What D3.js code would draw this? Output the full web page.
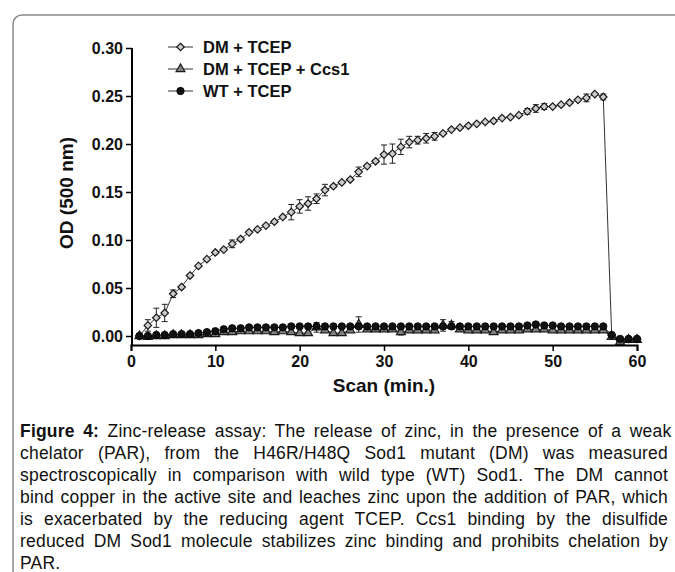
<!DOCTYPE html>
<html lang="en">
<head>
  <meta charset="UTF-8">
  <title>Zinc-release assay</title>
  <script src="https://d3js.org/d3.v7.min.js"></script>
  <style>
    body { margin: 0; background: #fff; }
    svg { display: block; font-family: "Liberation Sans", Arial, sans-serif; }
    .tick text { font-weight: bold; font-size: 16px; fill: #111; }
    .legend { font-weight: bold; font-size: 16.5px; fill: #111; }
    .title { font-weight: bold; font-size: 19px; fill: #111; }
    .caption { font-size: 17.5px; letter-spacing: 0.2px; fill: #111; }
  </style>
</head>
<body>
  <svg width="675" height="572"></svg>

  <script>
    // scan time (min.)
    const minutes = [1,2,3,4,5,6,7,8,9,10,11,12,13,14,15,16,17,18,19,20,
                     21,22,23,24,25,26,27,28,29,30,31,32,33,34,35,36,37,38,39,40,
                     41,42,43,44,45,46,47,48,49,50,51,52,53,54,55,56,57,58,59,60];

    // DM + TCEP
    const dm = [0.000,0.011,0.019,0.024,0.044,0.051,0.063,0.073,0.080,0.087,
                0.090,0.096,0.101,0.108,0.111,0.115,0.119,0.124,0.129,0.135,
                0.138,0.143,0.152,0.156,0.160,0.163,0.171,0.177,0.182,0.189,
                0.190,0.197,0.202,0.204,0.206,0.208,0.211,0.215,0.217,0.219,
                0.221,0.223,0.224,0.227,0.228,0.230,0.234,0.237,0.239,0.239,
                0.241,0.243,0.246,0.248,0.252,0.249,0.001,-0.005,-0.003,-0.003];
    const dmErr = [0.001,0.006,0.010,0.009,0.004,0.001,0.001,0.001,0.001,0.001,
                   0.001,0.004,0.001,0.001,0.001,0.001,0.001,0.001,0.008,0.007,
                   0.007,0.005,0.006,0.001,0.001,0.001,0.005,0.001,0.001,0.010,
                   0.010,0.008,0.006,0.004,0.005,0.004,0.001,0.001,0.001,0.001,
                   0.001,0.001,0.001,0.001,0.001,0.001,0.003,0.004,0.003,0.001,
                   0.001,0.001,0.001,0.004,0.001,0.003,0.001,0.001,0.001,0.001];

    // DM + TCEP + Ccs1
    const ccs = [0.000,-0.001,0.000,0.000,0.001,0.001,0.001,0.001,0.002,0.002,
                 0.004,0.004,0.005,0.005,0.005,0.005,0.004,0.005,0.004,0.003,
                 0.003,0.009,0.006,0.003,0.003,0.006,0.012,0.007,0.007,0.007,
                 0.007,0.004,0.006,0.006,0.006,0.006,0.011,0.011,0.007,0.006,
                 0.006,0.006,0.004,0.006,0.006,0.006,0.007,0.007,0.007,0.006,
                 0.006,0.006,0.006,0.006,0.006,0.006,-0.001,-0.006,-0.004,-0.004];
    const ccsErr = [0.001,0.001,0.001,0.001,0.001,0.001,0.001,0.001,0.001,0.001,
                    0.001,0.001,0.001,0.001,0.001,0.001,0.001,0.001,0.001,0.001,
                    0.001,0.005,0.001,0.001,0.001,0.001,0.008,0.001,0.001,0.001,
                    0.001,0.003,0.001,0.001,0.001,0.001,0.006,0.004,0.001,0.001,
                    0.001,0.001,0.002,0.001,0.001,0.001,0.001,0.001,0.001,0.001,
                    0.001,0.001,0.001,0.001,0.001,0.001,0.001,0.001,0.001,0.001];

    // WT + TCEP
    const wt = [0.000,0.000,0.001,0.001,0.002,0.002,0.002,0.003,0.004,0.005,
                0.007,0.008,0.008,0.009,0.009,0.009,0.009,0.009,0.010,0.010,
                0.010,0.010,0.010,0.010,0.010,0.010,0.010,0.010,0.010,0.010,
                0.010,0.010,0.010,0.010,0.010,0.010,0.010,0.010,0.010,0.010,
                0.010,0.010,0.010,0.010,0.010,0.010,0.011,0.012,0.011,0.011,
                0.010,0.010,0.010,0.010,0.010,0.010,0.001,-0.003,-0.003,-0.003];
    const wtErr = minutes.map(() => 0.001);

    const xTicks = [0, 10, 20, 30, 40, 50, 60];
    const yTicks = [0.00, 0.05, 0.10, 0.15, 0.20, 0.25, 0.30];

    const seriesNames = ["DM + TCEP", "DM + TCEP + Ccs1", "WT + TCEP"];

    const captionLines = [
      "Zinc-release assay: The release of zinc, in the presence of a weak",
      "chelator (PAR), from the H46R/H48Q Sod1 mutant (DM) was measured",
      "spectroscopically in comparison with wild type (WT) Sod1. The DM cannot",
      "bind copper in the active site and leaches zinc upon the addition of PAR, which",
      "is exacerbated by the reducing agent TCEP. Ccs1 binding by the disulfide",
      "reduced DM Sod1 molecule stabilizes zinc binding and prohibits chelation by",
      "PAR."
    ];

    const svg = d3.select("svg");

    // rounded frame around the figure
    svg.append("rect")
      .attr("x", 13).attr("y", 15)
      .attr("width", 720).attr("height", 620)
      .attr("rx", 9)
      .attr("fill", "none")
      .attr("stroke", "#8a8a8a")
      .attr("stroke-width", 1.5);

    const x = d3.scaleLinear().domain([0, 60]).range([131, 637]);
    const y = d3.scaleLinear().domain([0, 0.30]).range([336, 48]);
    const axisY = 345;

    // axes
    const gx = svg.append("g")
      .attr("transform", `translate(0,${axisY})`)
      .call(d3.axisBottom(x).tickValues(xTicks).tickSize(6).tickPadding(5).tickFormat(d3.format("d")));
    const gy = svg.append("g")
      .attr("transform", `translate(${x(0) + 1},0)`)
      .call(d3.axisLeft(y).tickValues(yTicks).tickSize(6).tickPadding(3).tickFormat(d3.format(".2f")));
    gy.select(".domain").attr("d", `M0,${y(0.30)}V${axisY}`);
    [gx, gy].forEach(g => {
      g.select(".domain").attr("stroke", "#000").attr("stroke-width", 2);
      g.selectAll(".tick line").attr("stroke", "#000").attr("stroke-width", 1.5);
    });

    svg.append("text").attr("class", "title")
      .attr("x", 384).attr("y", 392)
      .attr("text-anchor", "middle")
      .text("Scan (min.)");
    svg.append("text").attr("class", "title")
      .attr("transform", "translate(73,193) rotate(-90)")
      .attr("text-anchor", "middle")
      .text("OD (500 nm)");

    const diamond = d3.symbol().type(d3.symbolDiamond2).size(36)();
    const triangle = d3.symbol().type(d3.symbolTriangle).size(34)();

    const series = [
      { name: seriesNames[0], values: dm, errs: dmErr, shape: "diamond", fill: "#cdcdcd" },
      { name: seriesNames[1], values: ccs, errs: ccsErr, shape: "triangle", fill: "#808080" },
      { name: seriesNames[2], values: wt, errs: wtErr, shape: "circle", fill: "#111" }
    ];

    function drawMarker(sel, s) {
      if (s.shape === "circle") {
        sel.append("circle").attr("r", 3.7).attr("fill", s.fill).attr("stroke", "#000").attr("stroke-width", 0.8);
      } else {
        sel.append("path").attr("d", s.shape === "diamond" ? diamond : triangle)
          .attr("fill", s.fill).attr("stroke", "#1a1a1a").attr("stroke-width", 1.2);
      }
    }

    const line = d3.line().x(d => x(d.t)).y(d => y(d.v));

    series.forEach(s => {
      const pts = minutes.map((t, i) => ({ t, v: s.values[i], e: s.errs[i] }));
      const g = svg.append("g");

      g.append("path").datum(pts)
        .attr("d", line)
        .attr("fill", "none")
        .attr("stroke", "#333")
        .attr("stroke-width", 1);

      const bars = g.selectAll(".err").data(pts.filter(d => d.e > 0.0015)).enter().append("g");
      bars.append("path")
        .attr("d", d => `M${x(d.t)},${y(d.v - d.e)}V${y(d.v + d.e)}M${x(d.t) - 3},${y(d.v - d.e)}h6M${x(d.t) - 3},${y(d.v + d.e)}h6`)
        .attr("stroke", "#222")
        .attr("stroke-width", 1)
        .attr("fill", "none");

      g.selectAll(".pt").data(pts).enter().append("g")
        .attr("transform", d => `translate(${x(d.t)},${y(d.v)})`)
        .each(function () { drawMarker(d3.select(this), s); });
    });

    // legend
    const legendY = [47, 69, 91];
    series.forEach((s, i) => {
      const g = svg.append("g").attr("transform", `translate(168,${legendY[i]})`);
      g.append("line").attr("x1", 0).attr("x2", 25).attr("stroke", "#333").attr("stroke-width", 1);
      const m = g.append("g").attr("transform", "translate(12.5,0)");
      drawMarker(m, s);
      g.append("text").attr("class", "legend").attr("x", 35).attr("y", 6).text(s.name);
    });

    // caption, justified line by line
    const capLeft = 20, capRight = 668, capTop = 436.5, capStep = 22;
    captionLines.forEach((ln, i) => {
      const t = svg.append("text").attr("class", "caption")
        .attr("x", capLeft).attr("y", capTop + i * capStep);
      if (i === 0) {
        t.append("tspan").attr("font-weight", "bold").text("Figure 4:");
        t.append("tspan").text(" " + ln);
      } else {
        t.text(ln);
      }
      if (i < captionLines.length - 1) {
        const natural = t.node().getComputedTextLength();
        const gaps = (i === 0 ? ln.split(" ").length : ln.split(" ").length - 1);
        t.attr("word-spacing", (capRight - capLeft - natural) / gaps);
      }
    });
  </script>
</body>
</html>
